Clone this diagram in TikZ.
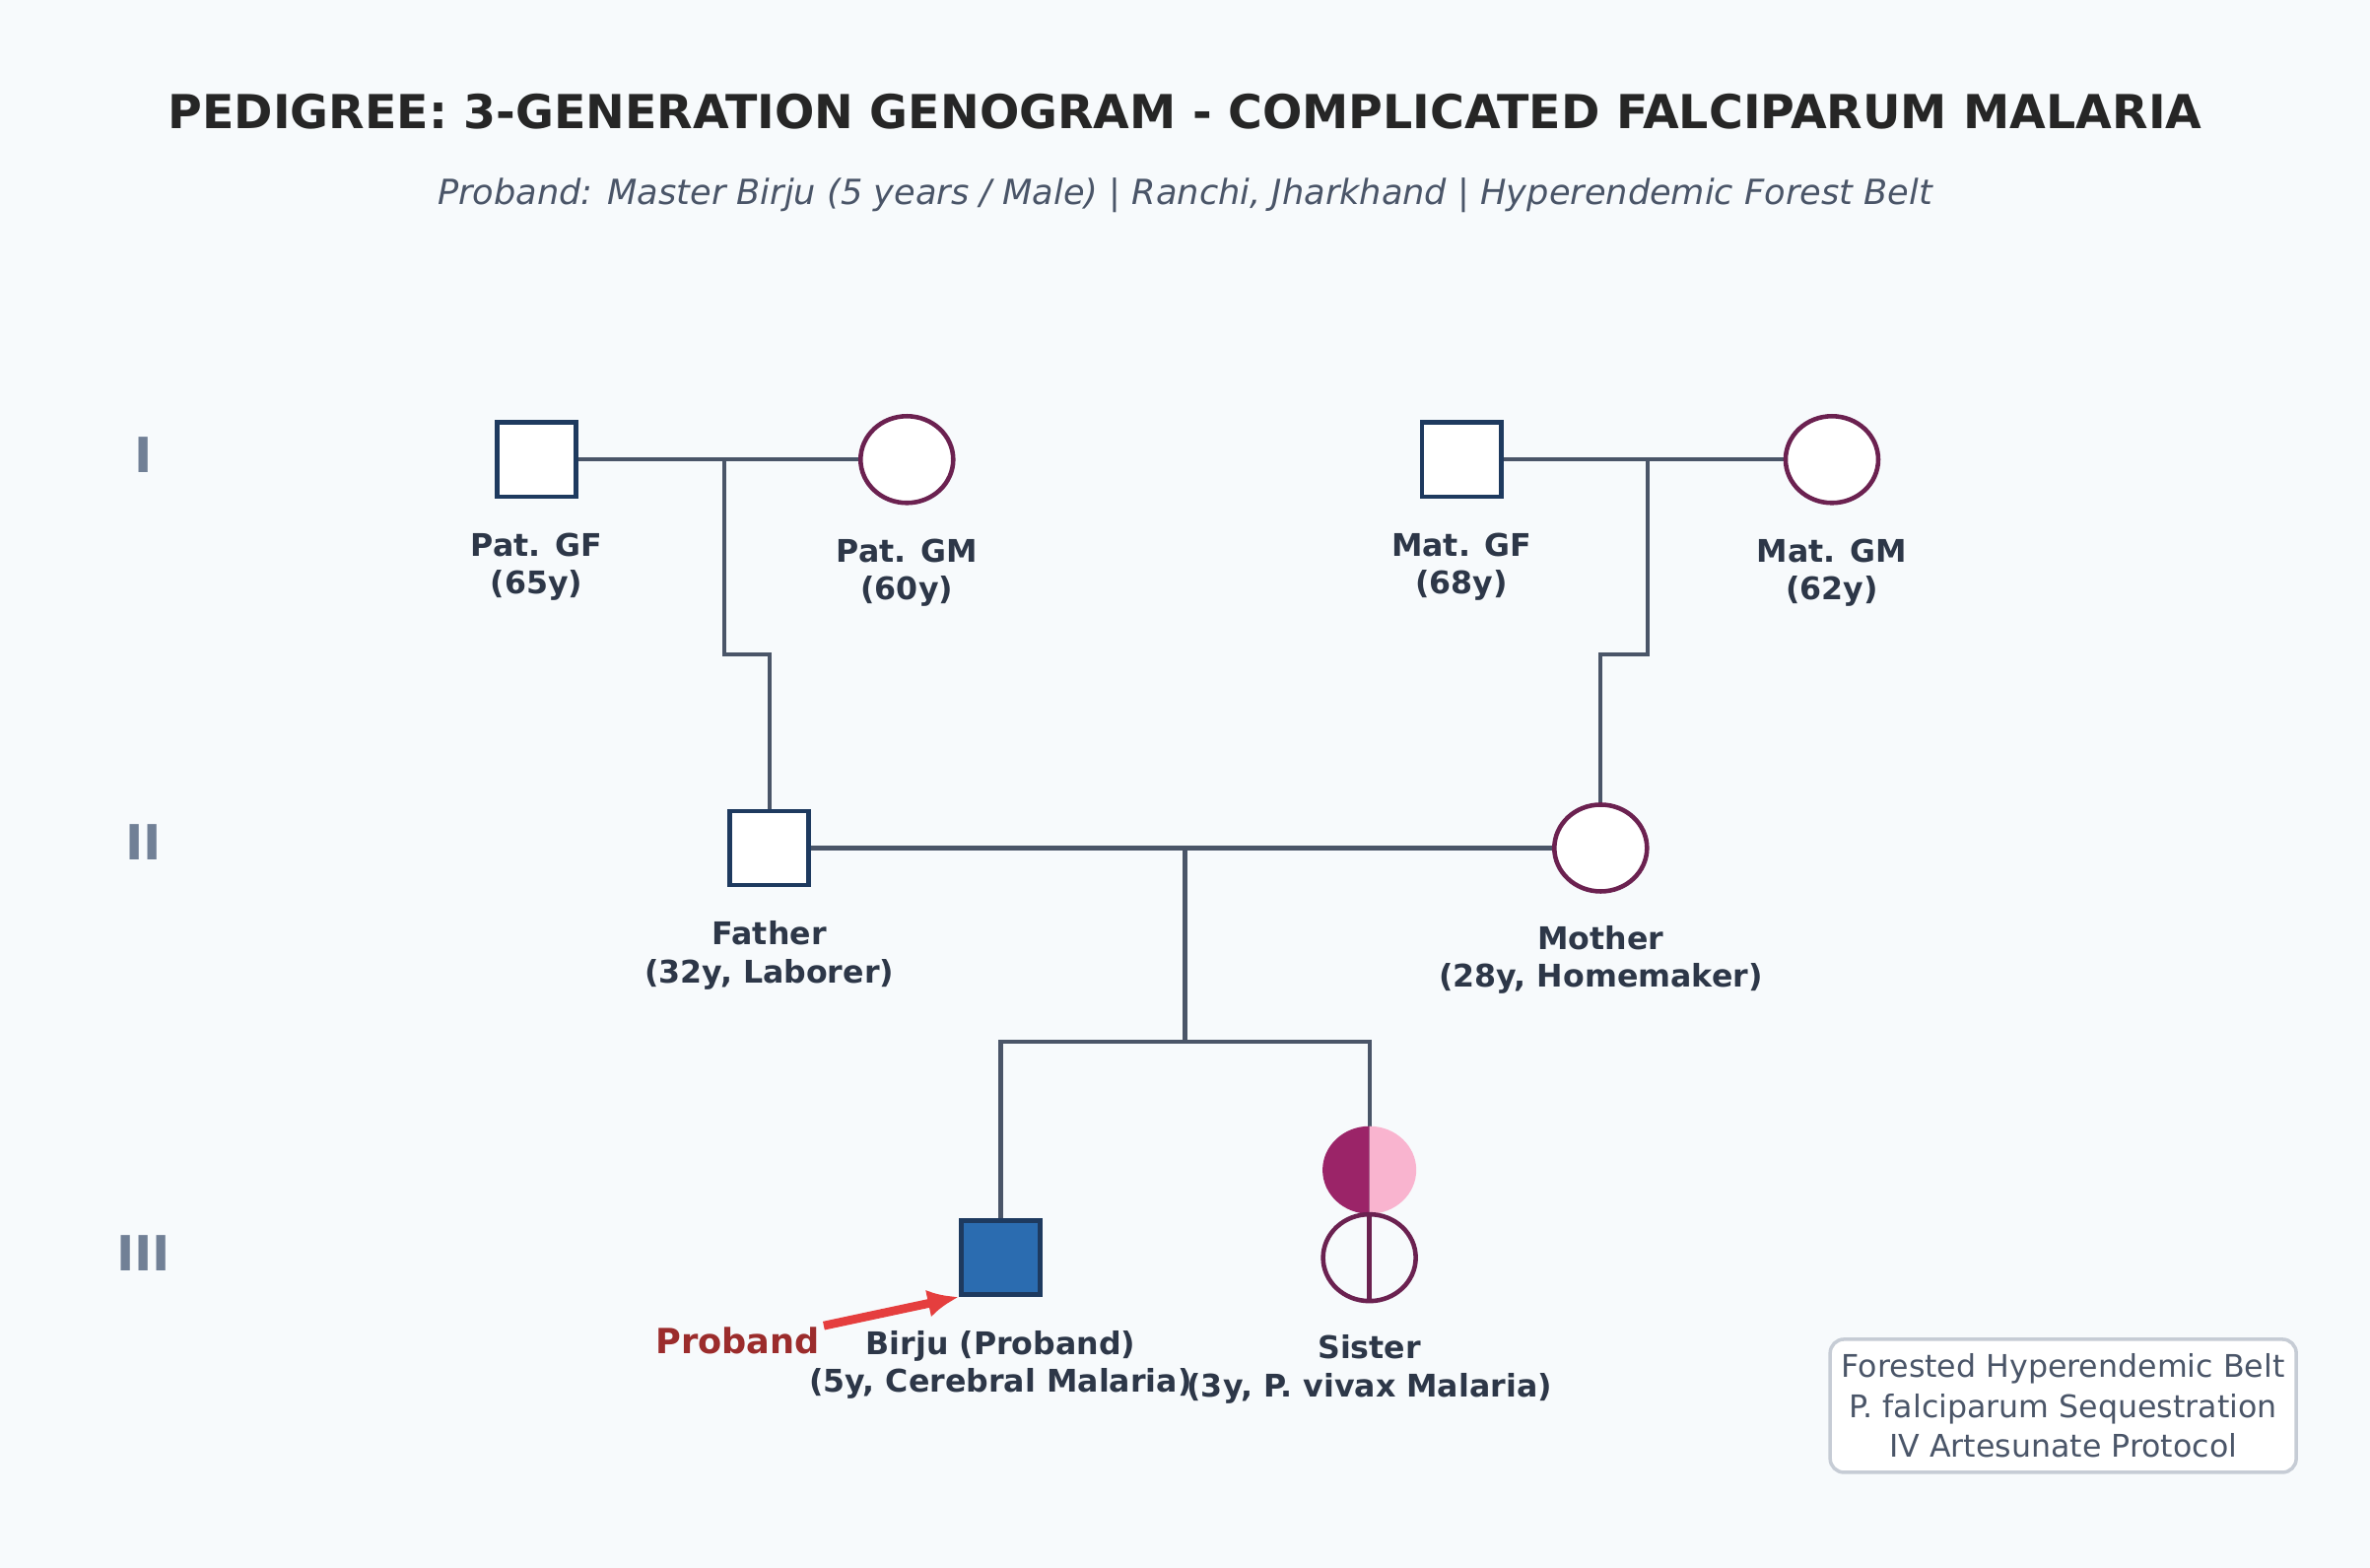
\documentclass[tikz,border=0pt]{standalone}
\usepackage{fontspec}
\setmainfont{DejaVu Sans}
\usetikzlibrary{positioning,shapes.geometric,arrows.meta}
\definecolor{bg}{HTML}{F7FAFC}
\definecolor{line}{HTML}{4A5568}
\definecolor{male}{HTML}{1E3A5F}
\definecolor{female}{HTML}{6B2150}
\definecolor{txt}{HTML}{2D3748}
\definecolor{gen}{HTML}{718096}
\definecolor{affected}{HTML}{2B6CB0}
\definecolor{halfdark}{HTML}{9B2468}
\definecolor{halflight}{HTML}{F9B4CF}
\definecolor{probtxt}{HTML}{9B2C2C}
\definecolor{probarrow}{HTML}{E53E3E}
\begin{document}
\begin{tikzpicture}[x=0.01534cm,y=-0.01534cm,
    sq/.style={draw=male,line width=1.3pt,fill=white,minimum width=0.8cm,minimum height=0.75cm,inner sep=0pt},
    ci/.style={draw=female,line width=1.3pt,fill=white,ellipse,minimum width=0.94cm,minimum height=0.88cm,inner sep=0pt},
    lbl/.style={text=txt,font=\fontsize{9}{11}\selectfont\bfseries,align=center},
    genlbl/.style={text=gen,font=\fontsize{14}{16}\selectfont\bfseries},
    rel/.style={draw=line,line width=1.2pt}]
    \fill[bg] (0,0) rectangle (1568,1037);
    \node[text=black!85,font=\fontsize{13.5}{16}\selectfont\bfseries] at (784,74) {PEDIGREE: 3-GENERATION GENOGRAM - COMPLICATED FALCIPARUM MALARIA};
    \node[text=line,font=\fontsize{10}{12}\selectfont\itshape] at (784,129) {Proband: Master Birju (5 years / Male) | Ranchi, Jharkhand | Hyperendemic Forest Belt};

    \node[genlbl] at (95,301) {I};
    \node[genlbl] at (95,557) {II};
    \node[genlbl] at (95,829) {III};

    % marriage and descent lines
    \coordinate (pc) at (479,304);
    \coordinate (mc) at (1090,304);
    \coordinate (fc) at (784,561);
    \coordinate (sib) at (784,689);
    \draw[rel] (355,304) -- (600,304);
    \draw[rel] (967,304) -- (1212,304);
    \draw[rel] (pc) -- (479,433) -- (509,433) -- (509,561);
    \draw[rel] (mc) -- (1090,433) -- (1059,433) -- (1059,561);
    \draw[rel] (509,561) -- (1059,561);
    \draw[rel] (fc) -- (sib);
    \draw[rel] (662,832) -- (662,689) -- (906,689) -- (906,832);

    % generation I
    \node[sq] (patgf) at (355,304) {};
    \node[ci] (patgm) at (600,304) {};
    \node[sq] (matgf) at (967,304) {};
    \node[ci] (matgm) at (1212,304) {};
    \node[lbl] at (355,375) {Pat. GF\\(65y)};
    \node[lbl] at (600,379) {Pat. GM\\(60y)};
    \node[lbl] at (967,375) {Mat. GF\\(68y)};
    \node[lbl] at (1212,379) {Mat. GM\\(62y)};

    % generation II
    \node[sq] (father) at (509,561) {};
    \node[ci] (mother) at (1059,561) {};
    \node[lbl] at (509,632) {Father\\(32y, Laborer)};
    \node[lbl] at (1059,635) {Mother\\(28y, Homemaker)};

    % generation III
    \node[sq,fill=affected] (birju) at (662,832) {};
    \fill[halfdark] (906,803) arc (90:270:31 and 29) -- cycle;
    \fill[halflight] (906,803) arc (90:-90:31 and 29) -- cycle;
    \node[ci,fill=none] (sister) at (906,832) {};
    \draw[female,line width=1.3pt] (sister.north) -- (sister.south);
    \node[lbl] at (662,903) {Birju (Proband)\\(5y, Cerebral Malaria)};
    \node[lbl] at (906,906) {Sister\\(3y, P. vivax Malaria)};

    \node[text=probtxt,font=\fontsize{10}{12}\selectfont\bfseries] (prob) at (488,887) {Proband};
    \draw[-{Latex[length=9pt,width=8pt]},draw=probarrow,fill=probarrow,line width=2.5pt] (545,877) -- (birju.south west);

    \node[draw=gen!40,line width=1pt,rounded corners=4pt,fill=white,text=line,align=center,
          font=\fontsize{9}{11.5}\selectfont,minimum width=4.6cm,minimum height=1.35cm] (legend) at (1365,930)
          {Forested Hyperendemic Belt\\P. falciparum Sequestration\\IV Artesunate Protocol};
\end{tikzpicture}
\end{document}
